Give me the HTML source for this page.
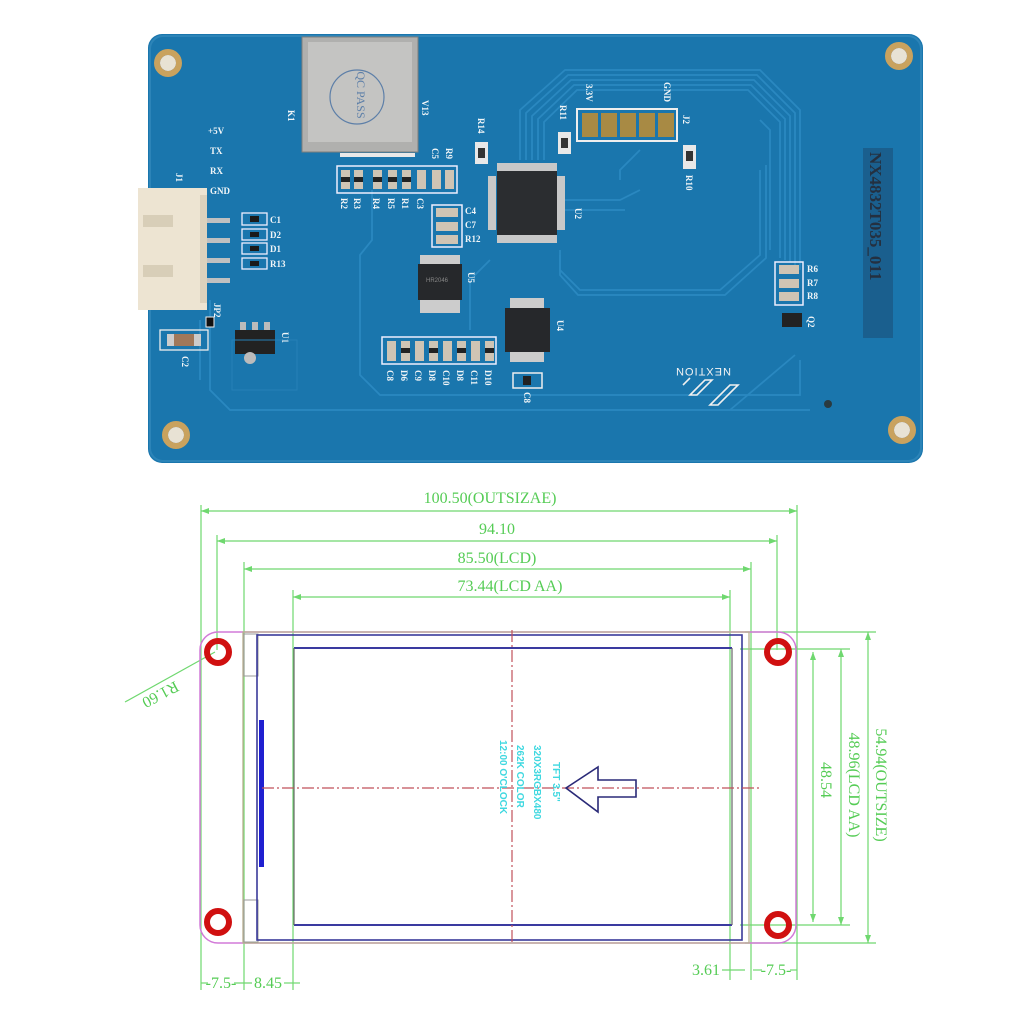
<!DOCTYPE html>
<html><head><meta charset="utf-8"><style>
html,body{margin:0;padding:0;background:#fff;width:1024px;height:1024px;overflow:hidden}
svg{display:block}
.w{fill:#f2f6f8;font-family:"Liberation Serif",serif;font-weight:bold;font-size:9px}
.g{fill:#55cc55;font-family:"Liberation Serif",serif;font-size:16px}
.c{fill:#3fd8e0;font-family:"Liberation Sans",sans-serif;font-size:10px;font-weight:bold}
</style></head><body>
<svg width="1024" height="1024" viewBox="0 0 1024 1024" xmlns="http://www.w3.org/2000/svg">
<!-- PCB -->
<rect x="148" y="34" width="775" height="429" rx="14" fill="#1a76ad"/>
<rect x="150" y="36" width="771" height="425" rx="13" fill="none" stroke="#2c84b8" stroke-width="2"/>
<g fill="none" stroke="#2a88c0" stroke-width="1.8">
<path d="M520 160 V110 L565 70 H760 L800 110 V270"/>
<path d="M526 160 V113 L568 75 H757 L795 113 V265"/>
<path d="M532 160 V116 L571 80 H754 L790 116 V262"/>
<path d="M538 160 V119 L574 85 H751 L785 119 V260"/>
<path d="M544 160 V122 L577 90 H748 L780 122 V258"/>
<path d="M560 250 V270 L580 290 H720 L760 255 V170"/>
<path d="M560 255 V275 L578 295 H725 L766 258 V165"/>
<path d="M372 190 V240 L360 255 V375 L380 395 H800 L800 360"/>
<path d="M210 300 L210 390 L230 410 H810"/>
<path d="M200 320 V380"/>
<path d="M490 260 L470 280 V330"/>
<path d="M560 200 H620 L640 190"/>
<path d="M560 210 H625"/>
<path d="M760 120 L770 130 V250"/>
<path d="M730 410 L795 355"/>
<path d="M640 150 L620 170 V180"/>
</g>
<g fill="#1c1c1c" stroke="#c9a25e" stroke-width="6">
<circle cx="168" cy="63" r="11"/><circle cx="899" cy="56" r="11"/>
<circle cx="176" cy="435" r="11"/><circle cx="902" cy="430" r="11"/>
</g>
<g fill="#e8e2d4"><circle cx="168" cy="63" r="8"/><circle cx="899" cy="56" r="8"/><circle cx="176" cy="435" r="8"/><circle cx="902" cy="430" r="8"/></g>
<rect x="302" y="37" width="116" height="115" fill="#b0b0ae" stroke="#7e7e7c"/>
<rect x="308" y="42" width="104" height="100" fill="#c4c4c2"/>
<circle cx="357" cy="97" r="27" fill="none" stroke="#5d7fa8" stroke-width="1.2"/>
<text x="357" y="95" transform="rotate(90 357 95)" text-anchor="middle" font-family="Liberation Serif" font-size="12" fill="#5d7fa8">QC PASS</text>
<g fill="#e8e8e8"><rect x="340" y="153" width="75" height="4"/></g>
<text x="288" y="110" class="w" transform="rotate(90 288 110)">K1</text>
<text x="422" y="100" class="w" transform="rotate(90 422 100)">V13</text>
<text x="208" y="134" class="w">+5V</text><text x="210" y="154" class="w">TX</text>
<text x="210" y="174" class="w">RX</text><text x="210" y="194" class="w">GND</text>
<text x="176" y="173" class="w" transform="rotate(90 176 173)">J1</text>
<g fill="#c0c0c0"><rect x="205" y="218" width="25" height="5"/><rect x="205" y="238" width="25" height="5"/><rect x="205" y="258" width="25" height="5"/><rect x="205" y="278" width="25" height="5"/></g>
<rect x="138" y="188" width="69" height="122" fill="#ede4d2"/>
<rect x="143" y="215" width="30" height="12" fill="#d8ceb8"/>
<rect x="143" y="265" width="30" height="12" fill="#d8ceb8"/>
<rect x="200" y="195" width="7" height="108" fill="#dcd2bd"/>
<g fill="none" stroke="#eef" stroke-width="1.3">
<rect x="242" y="213" width="25" height="12"/><rect x="242" y="229" width="25" height="11"/>
<rect x="242" y="243" width="25" height="11"/><rect x="242" y="258" width="25" height="11"/>
</g>
<g fill="#1a1a1a"><rect x="250" y="216" width="9" height="6"/><rect x="250" y="232" width="9" height="5"/><rect x="250" y="246" width="9" height="5"/><rect x="250" y="261" width="9" height="5"/></g>
<text x="270" y="223" class="w">C1</text><text x="270" y="238" class="w">D2</text><text x="270" y="252" class="w">D1</text><text x="270" y="267" class="w">R13</text>
<text x="214" y="303" class="w" transform="rotate(90 214 303)">JP2</text>
<rect x="206" y="317" width="8" height="10" fill="#111" stroke="#eee"/>
<rect x="160" y="330" width="48" height="20" fill="none" stroke="#eee" stroke-width="1.3"/>
<rect x="167" y="334" width="34" height="12" fill="#a0785a"/><rect x="167" y="334" width="7" height="12" fill="#ccc"/><rect x="194" y="334" width="7" height="12" fill="#ccc"/>
<text x="182" y="356" class="w" transform="rotate(90 182 356)">C2</text>
<rect x="235" y="330" width="40" height="24" fill="#222"/>
<g fill="#bbb"><rect x="240" y="322" width="6" height="8"/><rect x="252" y="322" width="6" height="8"/><rect x="264" y="322" width="6" height="8"/></g>
<circle cx="250" cy="358" r="6" fill="#bbb"/>
<text x="282" y="332" class="w" transform="rotate(90 282 332)">U1</text>
<rect x="232" y="340" width="65" height="50" fill="none" stroke="#2580b6"/>
<rect x="337" y="166" width="120" height="27" fill="none" stroke="#eef" stroke-width="1.5"/>
<g fill="#cfc4b4">
<rect x="341" y="170" width="9" height="19"/><rect x="354" y="170" width="9" height="19"/><rect x="373" y="170" width="9" height="19"/><rect x="388" y="170" width="9" height="19"/><rect x="402" y="170" width="9" height="19"/><rect x="417" y="170" width="9" height="19"/><rect x="432" y="170" width="9" height="19"/><rect x="445" y="170" width="9" height="19"/>
</g>
<g fill="#222"><rect x="341" y="177" width="9" height="5"/><rect x="354" y="177" width="9" height="5"/><rect x="373" y="177" width="9" height="5"/><rect x="388" y="177" width="9" height="5"/><rect x="402" y="177" width="9" height="5"/></g>
<g class="w">
<text x="341" y="198" transform="rotate(90 341 198)">R2</text><text x="354" y="198" transform="rotate(90 354 198)">R3</text>
<text x="373" y="198" transform="rotate(90 373 198)">R4</text><text x="388" y="198" transform="rotate(90 388 198)">R5</text>
<text x="402" y="198" transform="rotate(90 402 198)">R1</text><text x="417" y="198" transform="rotate(90 417 198)">C3</text>
<text x="432" y="148" transform="rotate(90 432 148)">C5</text><text x="446" y="148" transform="rotate(90 446 148)">R9</text>
</g>
<rect x="432" y="205" width="30" height="42" fill="none" stroke="#eef" stroke-width="1.5"/>
<g fill="#cfc4b4"><rect x="436" y="208" width="22" height="9"/><rect x="436" y="222" width="22" height="9"/><rect x="436" y="235" width="22" height="9"/></g>
<text x="465" y="214" class="w">C4</text><text x="465" y="228" class="w">C7</text><text x="465" y="242" class="w">R12</text>
<rect x="475" y="142" width="13" height="22" fill="#e8e8e8"/><rect x="478" y="148" width="7" height="10" fill="#333"/>
<text x="478" y="118" class="w" transform="rotate(90 478 118)">R14</text>
<rect x="558" y="132" width="13" height="22" fill="#e8e8e8"/><rect x="561" y="138" width="7" height="10" fill="#333"/>
<text x="560" y="105" class="w" transform="rotate(90 560 105)">R11</text>
<rect x="683" y="145" width="13" height="24" fill="#e8e8e8"/><rect x="686" y="151" width="7" height="10" fill="#333"/>
<text x="686" y="175" class="w" transform="rotate(90 686 175)">R10</text>
<rect x="577" y="109" width="100" height="32" fill="none" stroke="#eee" stroke-width="2"/>
<g fill="#a88a44"><rect x="582" y="113" width="16" height="24"/><rect x="601" y="113" width="16" height="24"/><rect x="620" y="113" width="16" height="24"/><rect x="639" y="113" width="16" height="24"/><rect x="658" y="113" width="16" height="24"/></g>
<text x="586" y="84" class="w" transform="rotate(90 586 84)">3.3V</text>
<text x="664" y="82" class="w" transform="rotate(90 664 82)">GND</text>
<text x="683" y="115" class="w" transform="rotate(90 683 115)">J2</text>
<g fill="#c8c8c8">
<rect x="497" y="163" width="60" height="8"/><rect x="497" y="235" width="60" height="8"/>
<rect x="488" y="176" width="8" height="54"/><rect x="557" y="176" width="8" height="54"/>
</g>
<rect x="497" y="171" width="60" height="64" fill="#2b2d30"/>
<text x="575" y="208" class="w" transform="rotate(90 575 208)">U2</text>
<rect x="420" y="255" width="40" height="58" fill="#ccc"/>
<rect x="418" y="264" width="44" height="36" fill="#26282b"/>
<text x="426" y="282" font-family="Liberation Sans" font-size="6" fill="#888">HR2046</text>
<text x="468" y="272" class="w" transform="rotate(90 468 272)">U5</text>
<rect x="382" y="337" width="114" height="27" fill="none" stroke="#eef" stroke-width="1.5"/>
<g fill="#cfc4b4"><rect x="387" y="341" width="9" height="20"/><rect x="401" y="341" width="9" height="20"/><rect x="415" y="341" width="9" height="20"/><rect x="429" y="341" width="9" height="20"/><rect x="443" y="341" width="9" height="20"/><rect x="457" y="341" width="9" height="20"/><rect x="471" y="341" width="9" height="20"/><rect x="485" y="341" width="9" height="20"/></g>
<g fill="#222"><rect x="401" y="348" width="9" height="5"/><rect x="429" y="348" width="9" height="5"/><rect x="457" y="348" width="9" height="5"/><rect x="485" y="348" width="9" height="5"/></g>
<g class="w">
<text x="387" y="370" transform="rotate(90 387 370)">C8</text><text x="401" y="370" transform="rotate(90 401 370)">D6</text>
<text x="415" y="370" transform="rotate(90 415 370)">C9</text><text x="429" y="370" transform="rotate(90 429 370)">D8</text>
<text x="443" y="370" transform="rotate(90 443 370)">C10</text><text x="457" y="370" transform="rotate(90 457 370)">D8</text>
<text x="471" y="370" transform="rotate(90 471 370)">C11</text><text x="485" y="370" transform="rotate(90 485 370)">D10</text>
</g>
<g fill="#ccc"><rect x="510" y="298" width="34" height="12"/><rect x="510" y="350" width="34" height="12"/></g>
<rect x="505" y="308" width="45" height="44" fill="#26282b"/>
<text x="557" y="320" class="w" transform="rotate(90 557 320)">U4</text>
<rect x="513" y="373" width="29" height="15" fill="none" stroke="#eee" stroke-width="1.5"/>
<rect x="523" y="376" width="8" height="9" fill="#222"/>
<text x="524" y="392" class="w" transform="rotate(90 524 392)">C8</text>
<rect x="775" y="262" width="28" height="43" fill="none" stroke="#eef" stroke-width="1.5"/>
<g fill="#cfc4b4"><rect x="779" y="265" width="20" height="9"/><rect x="779" y="279" width="20" height="9"/><rect x="779" y="292" width="20" height="9"/></g>
<text x="807" y="272" class="w">R6</text><text x="807" y="286" class="w">R7</text><text x="807" y="299" class="w">R8</text>
<rect x="782" y="313" width="20" height="14" fill="#222"/>
<text x="808" y="316" class="w" transform="rotate(90 808 316)">Q2</text>
<rect x="863" y="148" width="30" height="190" fill="#1a5f8e"/>
<text x="870" y="152" transform="rotate(90 870 152)" font-family="Liberation Serif" font-weight="bold" font-size="17" fill="#243040">NX4832T035_011</text>
<text x="703" y="368" transform="rotate(180 703 368)" text-anchor="middle" font-family="Liberation Sans" font-size="11" letter-spacing="1" fill="#f3f3f3">NEXTION</text>
<g fill="none" stroke="#f0f0f0" stroke-width="1.6">
<path d="M690 395 L705 380 L712 380 L697 395 Z"/><path d="M710 405 L730 385 L738 385 L718 405 Z"/><path d="M683 385 L690 378"/>
</g>
<circle cx="828" cy="404" r="4" fill="#2a3a40"/>

<!-- DRAWING -->
<g stroke="#6fd86f" stroke-width="1.2" fill="none">
<line x1="201" y1="505" x2="201" y2="990"/><line x1="217" y1="535" x2="217" y2="650"/>
<line x1="244" y1="562" x2="244" y2="990"/><line x1="293" y1="590" x2="293" y2="990"/>
<line x1="797" y1="505" x2="797" y2="980"/><line x1="777" y1="535" x2="777" y2="650"/>
<line x1="751" y1="562" x2="751" y2="980"/><line x1="730" y1="590" x2="730" y2="980"/>
<line x1="201" y1="511" x2="797" y2="511"/><line x1="217" y1="541" x2="777" y2="541"/>
<line x1="244" y1="569" x2="751" y2="569"/><line x1="293" y1="597" x2="730" y2="597"/>
<line x1="745" y1="632" x2="876" y2="632"/><line x1="745" y1="943" x2="876" y2="943"/>
<line x1="740" y1="649" x2="850" y2="649"/><line x1="740" y1="925" x2="850" y2="925"/>
<line x1="868" y1="632" x2="868" y2="943"/><line x1="841" y1="649" x2="841" y2="925"/>
<line x1="813" y1="652" x2="813" y2="922"/>
<line x1="201" y1="983" x2="208" y2="983"/><line x1="234" y1="983" x2="252" y2="983"/><line x1="284" y1="983" x2="300" y2="983"/>
<line x1="722" y1="970" x2="745" y2="970"/><line x1="753" y1="970" x2="762" y2="970"/><line x1="790" y1="970" x2="797" y2="970"/>
<line x1="125" y1="702" x2="215" y2="652"/>
</g>
<g fill="#6fd86f">
<path d="M201 511 l8 -3 v6z"/><path d="M797 511 l-8 -3 v6z"/>
<path d="M217 541 l8 -3 v6z"/><path d="M777 541 l-8 -3 v6z"/>
<path d="M244 569 l8 -3 v6z"/><path d="M751 569 l-8 -3 v6z"/>
<path d="M293 597 l8 -3 v6z"/><path d="M730 597 l-8 -3 v6z"/>
<path d="M868 632 l-3 8 h6z"/><path d="M868 943 l-3 -8 h6z"/>
<path d="M841 649 l-3 8 h6z"/><path d="M841 925 l-3 -8 h6z"/>
<path d="M813 652 l-3 8 h6z"/><path d="M813 922 l-3 -8 h6z"/>
</g>
<text x="490" y="503" class="g" text-anchor="middle">100.50(OUTSIZAE)</text>
<text x="497" y="534" class="g" text-anchor="middle">94.10</text>
<text x="497" y="563" class="g" text-anchor="middle">85.50(LCD)</text>
<text x="510" y="591" class="g" text-anchor="middle">73.44(LCD AA)</text>
<text x="876" y="785" class="g" text-anchor="middle" transform="rotate(90 876 785)">54.94(OUTSIZE)</text>
<text x="849" y="785" class="g" text-anchor="middle" transform="rotate(90 849 785)">48.96(LCD AA)</text>
<text x="821" y="780" class="g" text-anchor="middle" transform="rotate(90 821 780)">48.54</text>
<text x="221" y="988" class="g" text-anchor="middle">-7.5-</text>
<text x="268" y="988" class="g" text-anchor="middle">8.45</text>
<text x="706" y="975" class="g" text-anchor="middle">3.61</text>
<text x="776" y="975" class="g" text-anchor="middle">-7.5-</text>
<text x="158" y="690" class="g" font-size="17" text-anchor="middle" transform="rotate(152 158 690)">R1.60</text>
<rect x="200" y="632" width="596" height="311" rx="18" fill="none" stroke="#d27ad8" stroke-width="1.5"/>
<rect x="243" y="632" width="506" height="311" fill="none" stroke="#b8b090" stroke-width="1.3"/>
<rect x="244" y="634" width="14" height="42" fill="none" stroke="#999" stroke-width="1"/>
<rect x="244" y="900" width="14" height="42" fill="none" stroke="#999" stroke-width="1"/>
<rect x="257" y="635" width="485" height="305" fill="none" stroke="#3a3a9a" stroke-width="1.6"/>
<line x1="294" y1="648" x2="732" y2="648" stroke="#3a3aa0" stroke-width="2"/>
<line x1="294" y1="925" x2="732" y2="925" stroke="#3a3aa0" stroke-width="2"/>
<line x1="294" y1="648" x2="294" y2="925" stroke="#666" stroke-width="1.2"/>
<line x1="732" y1="648" x2="732" y2="925" stroke="#666" stroke-width="1.2"/>
<rect x="259" y="720" width="5" height="147" fill="#1f1fd0"/>
<line x1="512" y1="630" x2="512" y2="945" stroke="#c0505a" stroke-width="1.2" stroke-dasharray="12 3 2 3"/>
<line x1="262" y1="788" x2="762" y2="788" stroke="#c0505a" stroke-width="1.2" stroke-dasharray="12 3 2 3"/>
<path d="M566 788 L598 767 V780 H636 V797 H598 V812 Z" fill="none" stroke="#2a2a78" stroke-width="1.6"/>
<g class="c">
<text x="553" y="762" transform="rotate(90 553 762)">TFT 3.5"</text>
<text x="534" y="745" transform="rotate(90 534 745)">320X3RGBX480</text>
<text x="517" y="745" transform="rotate(90 517 745)">262K COLOR</text>
<text x="500" y="740" transform="rotate(90 500 740)">12:00 O'CLOCK</text>
</g>
<g fill="none" stroke="#d01010" stroke-width="6">
<circle cx="218" cy="652" r="11"/><circle cx="778" cy="652" r="11"/>
<circle cx="218" cy="922" r="11"/><circle cx="778" cy="925" r="11"/>
</g>
</svg>
</body></html>
